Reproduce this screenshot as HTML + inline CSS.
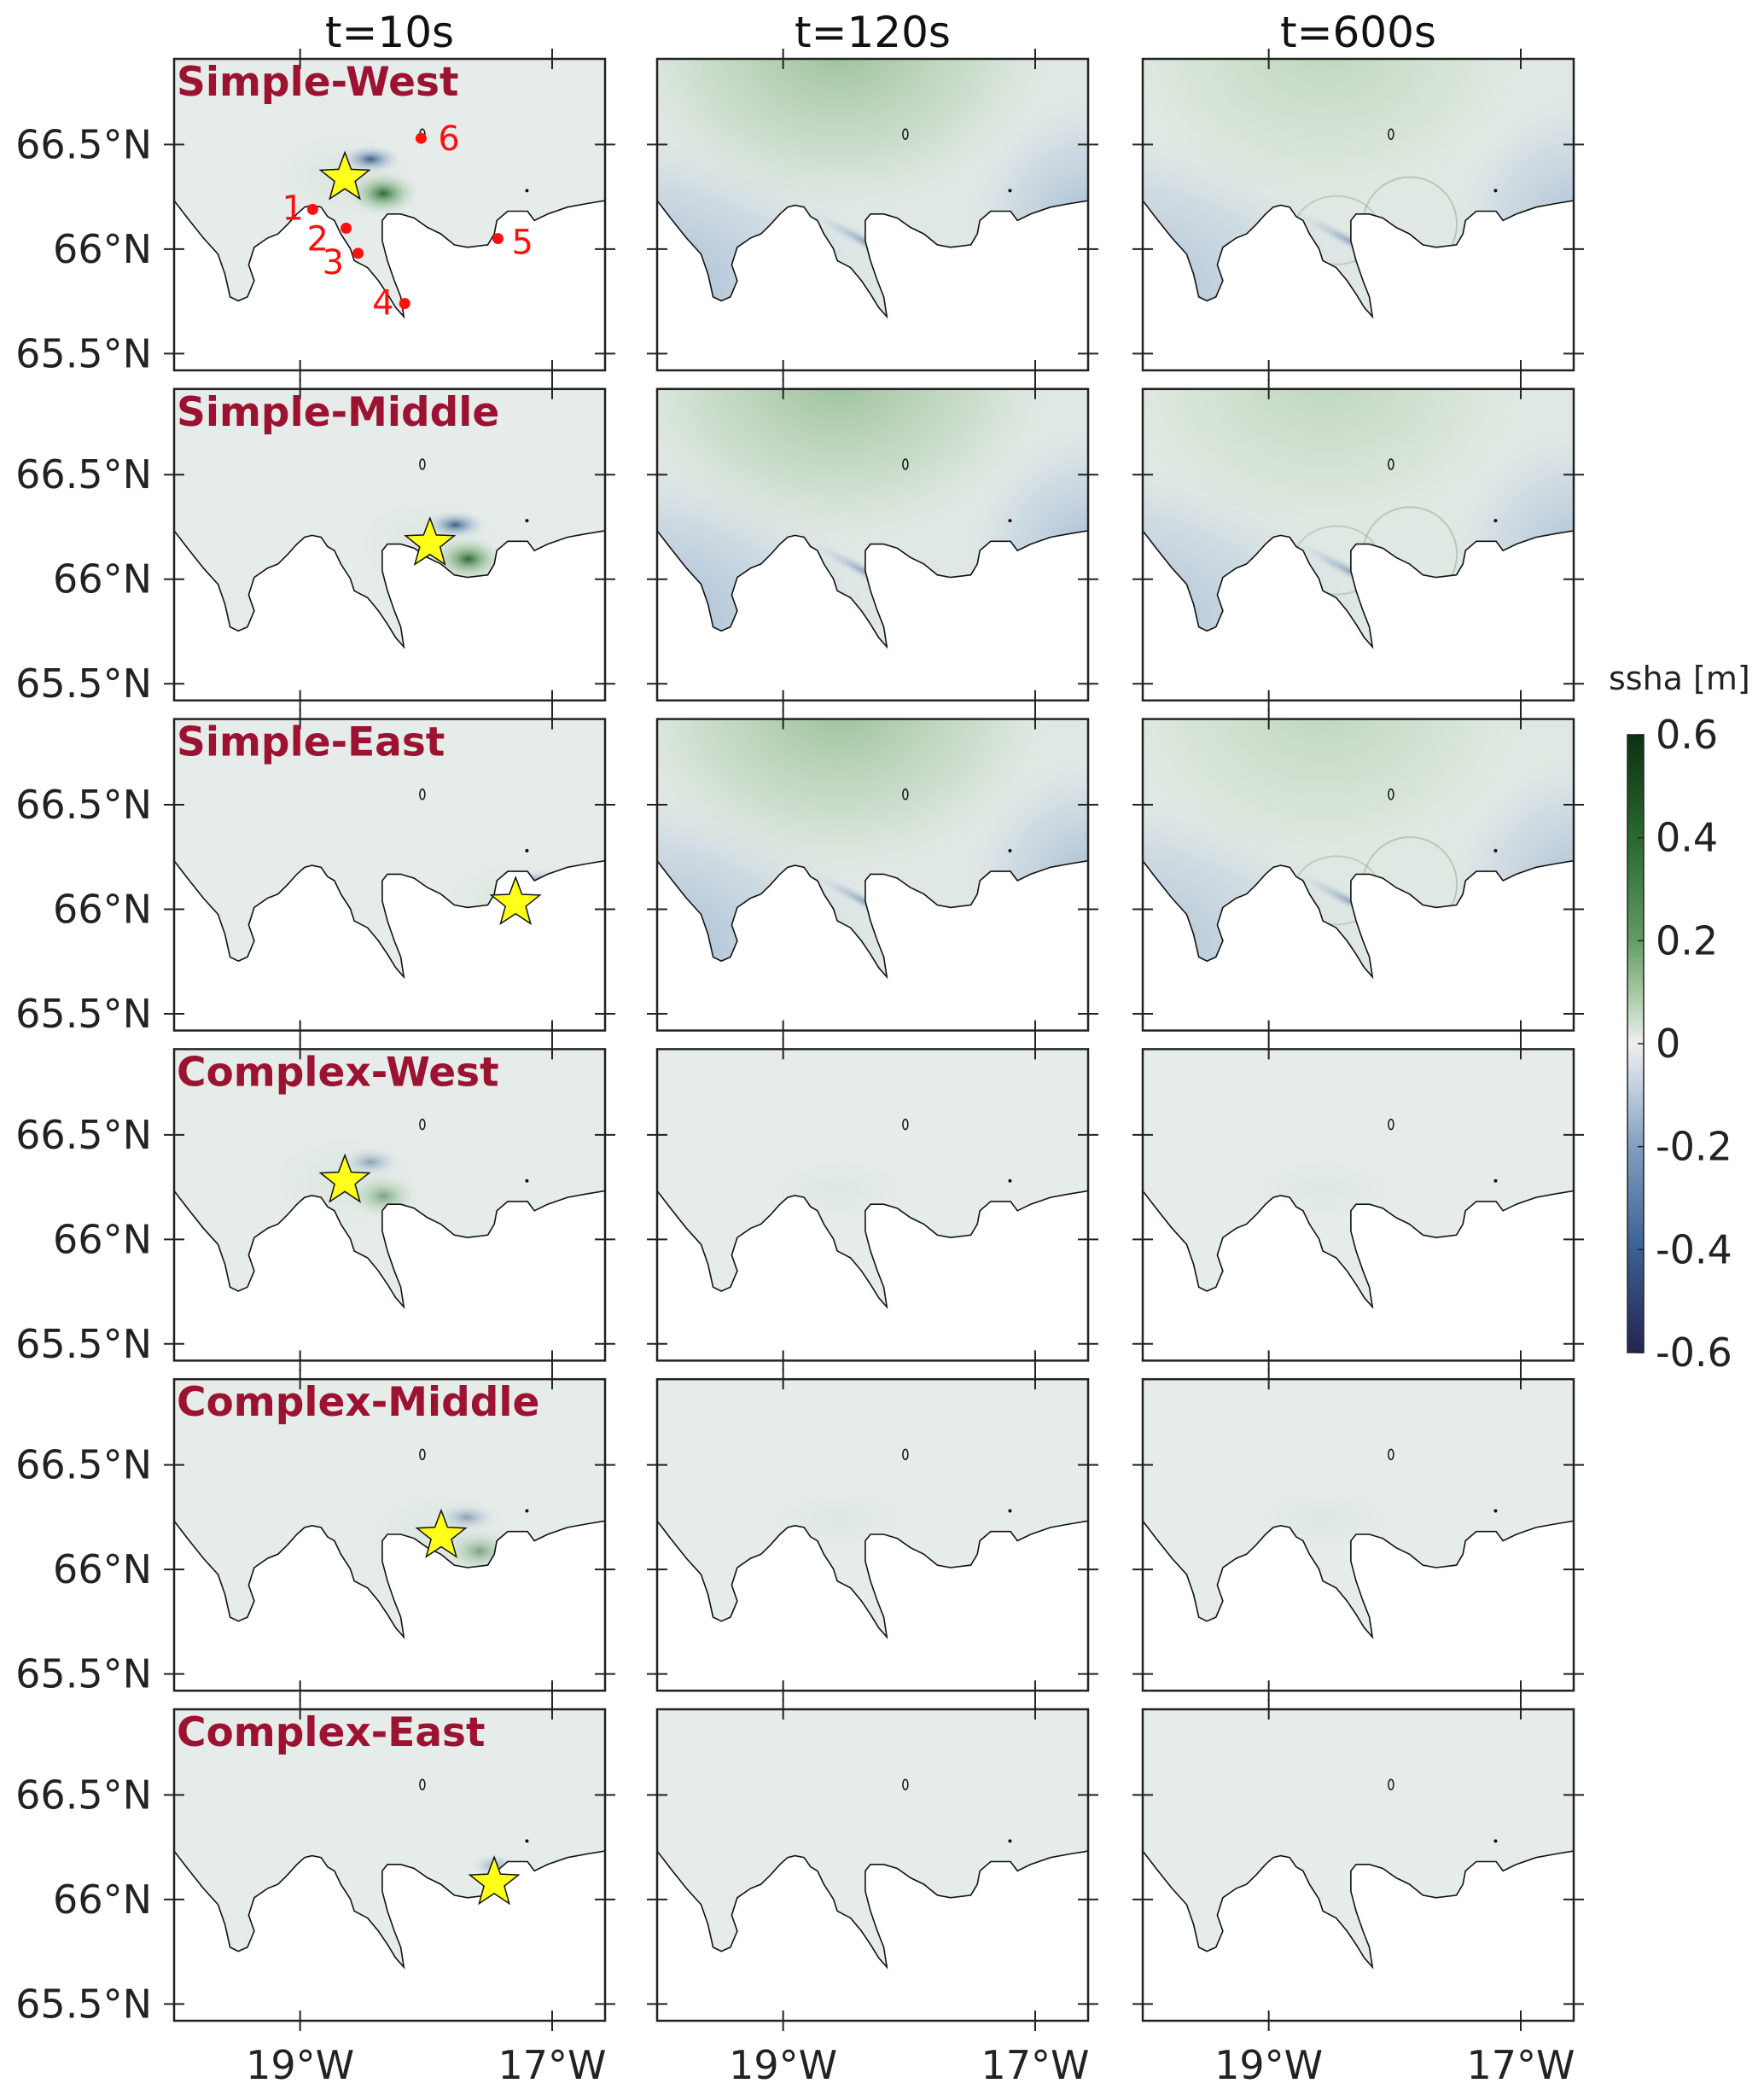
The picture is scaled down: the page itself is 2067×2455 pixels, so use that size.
<!DOCTYPE html>
<html><head><meta charset="utf-8"><style>
html,body{margin:0;padding:0;background:#fff;}
svg{display:block;font-family:"DejaVu Sans","Liberation Sans",sans-serif;}
</style></head><body>
<svg id="fig" width="2067" height="2455" viewBox="0 0 2067 2455" xmlns="http://www.w3.org/2000/svg">
<defs>
<linearGradient id="cbgrad" x1="0" y1="0" x2="0" y2="1">
<stop offset="0" stop-color="#0d3012"/><stop offset="0.17" stop-color="#2a6a30"/><stop offset="0.33" stop-color="#5f9a62"/>
<stop offset="0.42" stop-color="#a8c9a6"/><stop offset="0.5" stop-color="#eef0ef"/><stop offset="0.58" stop-color="#bccbdc"/>
<stop offset="0.67" stop-color="#7f9dbd"/><stop offset="0.83" stop-color="#3b6195"/><stop offset="1" stop-color="#24244f"/>
</linearGradient>
<radialGradient id="greenTop"><stop offset="0" stop-color="#98c096"/><stop offset="0.6" stop-color="#c3d9c2" stop-opacity="0.7"/><stop offset="1" stop-color="#e3ebe4" stop-opacity="0"/></radialGradient>
<radialGradient id="greenTop2"><stop offset="0" stop-color="#bcd6bb"/><stop offset="0.6" stop-color="#d3e3d2" stop-opacity="0.7"/><stop offset="1" stop-color="#e3ebe4" stop-opacity="0"/></radialGradient>
<radialGradient id="blueSide"><stop offset="0" stop-color="#9cb5d0"/><stop offset="0.6" stop-color="#bfcfe0" stop-opacity="0.6"/><stop offset="1" stop-color="#dfe6ec" stop-opacity="0"/></radialGradient>
<radialGradient id="greenBlob"><stop offset="0" stop-color="#1d5a25"/><stop offset="0.4" stop-color="#6aa56c" stop-opacity="0.6"/><stop offset="1" stop-color="#e6ecea" stop-opacity="0"/></radialGradient>
<radialGradient id="blueBlob"><stop offset="0" stop-color="#24456f"/><stop offset="0.4" stop-color="#6e8fb8" stop-opacity="0.6"/><stop offset="1" stop-color="#e6ecea" stop-opacity="0"/></radialGradient>
<radialGradient id="faintBlob"><stop offset="0" stop-color="#c5d8c5" stop-opacity="0.7"/><stop offset="1" stop-color="#e6ecea" stop-opacity="0"/></radialGradient>
</defs>
<g id="panels"></g>
</svg>
<script>
const rowNames = ["Simple-West","Simple-Middle","Simple-East","Complex-West","Complex-Middle","Complex-East"];
const colTitles = ["t=10s","t=120s","t=600s"];
const starLon = [-18.645,-17.97,-17.29,-18.645,-17.88,-17.46];
const starLat = [66.34,66.17,66.03,66.28,66.16,66.08];
const stationLon = [-18.90,-18.635,-18.54,-18.17,-17.43,-18.04];
const stationLat = [66.19,66.10,65.98,65.74,66.05,66.53];
const stationLabels = ["1","2","3","4","5","6"];
const latTicks = [66.5,66.0,65.5];
const latTickLabels = ["66.5°N","66°N","65.5°N"];
const lonTicks = [-19,-17];
const lonTickLabels = ["19°W","17°W"];
const cbTicks = [0.6,0.4,0.2,0,-0.2,-0.4,-0.6];
const cbTickLabels = ["0.6","0.4","0.2","0","-0.2","-0.4","-0.6"];
const coastU = [0,.031,.068,.102,.118,.130,.149,.170,.186,.173,.186,.217,.241,.263,.285,.303,.320,.341,.356,.372,.387,.409,.418,.449,.474,.495,.514,.533,.526,.511,.495,.483,.483,.495,.526,.557,.588,.619,.650,.681,.728,.743,.749,.774,.820,.836,.867,.913,.960,1];
const coastV = [.455,.511,.575,.627,.691,.764,.777,.764,.712,.661,.605,.575,.562,.532,.498,.476,.470,.476,.506,.519,.562,.609,.648,.670,.712,.755,.798,.828,.764,.712,.648,.584,.519,.498,.498,.511,.541,.562,.597,.605,.597,.562,.519,.489,.489,.519,.498,.476,.464,.455];

const LON0=-20.0, LON1=-16.58, LAT0=65.42, LAT1=66.91;
const colX=[204,770,1339], PW=505, PH=365, rowY0=69, rowPitch=386.8;
const NS="http://www.w3.org/2000/svg";
const root=document.getElementById('panels');
function mk(tag,attrs,parent){const e=document.createElementNS(NS,tag);for(const k in attrs)e.setAttribute(k,attrs[k]);(parent||root).appendChild(e);return e;}
function xs(c,lon){return colX[c]+(lon-LON0)/(LON1-LON0)*PW;}
function ys(r,lat){return rowY0+r*rowPitch+(LAT1-lat)/(LAT1-LAT0)*PH;}
function starPath(cx,cy,R){let p="";for(let i=0;i<10;i++){const rr=i%2?R*0.42:R;const a=-Math.PI/2+i*Math.PI/5;p+=(i?"L":"M")+(cx+rr*Math.cos(a)).toFixed(1)+","+(cy+rr*Math.sin(a)).toFixed(1);}return p+"Z";}

for(let r=0;r<6;r++){
 for(let c=0;c<3;c++){
  const x0=colX[c], y0=rowY0+r*rowPitch;
  const g=mk('g',{});
  
  
  const clipId='clip'+r+c;
  const cp=mk('clipPath',{id:clipId},g); mk('rect',{x:x0,y:y0,width:PW,height:PH},cp);
  const field=mk('g',{'clip-path':'url(#'+clipId+')'},g);
  
  
  const simple=r<3;
  mk('rect',{x:x0,y:y0,width:PW,height:PH,fill:simple&&c>0?'#e0e8e4':'#e6ecea'},field);
  const sx=xs(c,starLon[r]), sy=ys(r,starLat[r]);
  if(c===0){
   if(r<5){
    mk('ellipse',{cx:sx,cy:sy,rx:110,ry:70,fill:'url(#faintBlob)',opacity:0.6},field);
    mk('ellipse',{cx:sx+45,cy:sy+18,rx:45,ry:28,fill:'url(#greenBlob)',opacity:simple?0.9:0.5},field);
    mk('ellipse',{cx:sx+30,cy:sy-22,rx:38,ry:18,fill:'url(#blueBlob)',opacity:simple?0.85:0.45},field);
   } else {
    mk('ellipse',{cx:sx,cy:sy-20,rx:30,ry:16,fill:'url(#blueBlob)',opacity:0.4},field);
   }
  } else if(simple){
   const gt=c===1?'url(#greenTop)':'url(#greenTop2)';
   mk('ellipse',{cx:x0-PW*0.05,cy:y0+PH*0.75,rx:PW*0.6,ry:PH*0.55,fill:'url(#blueSide)',opacity:c===1?1:0.85},field);
   mk('ellipse',{cx:x0+PW,cy:y0+PH*0.55,rx:PW*0.3,ry:PH*0.45,fill:'url(#blueSide)',opacity:c===1?0.9:0.8},field);
   mk('ellipse',{cx:x0+PW*0.42,cy:y0-PH*0.05,rx:PW*0.55,ry:PH*0.6,fill:gt},field);
   mk('ellipse',{cx:x0+PW*0.5,cy:y0+PH*0.6,rx:90,ry:10,fill:'url(#blueBlob)',opacity:0.5,transform:'rotate(28 '+(x0+PW*0.5)+' '+(y0+PH*0.6)+')'},field);
   if(c===2){
    mk('ellipse',{cx:x0+PW*0.62,cy:y0+PH*0.53,rx:55,ry:55,fill:'none',stroke:'#9ab59b','stroke-width':2,opacity:0.6},field);
    mk('ellipse',{cx:x0+PW*0.45,cy:y0+PH*0.55,rx:50,ry:40,fill:'none',stroke:'#9ab59b','stroke-width':2,opacity:0.5},field);
   }
  } else if(r<5){
   mk('ellipse',{cx:x0+PW*0.42,cy:y0+PH*0.45,rx:110,ry:50,fill:'url(#faintBlob)',opacity:0.4},field);
  }
  let d="M"+(x0)+","+(y0+PH)+" ";
  for(let i=0;i<coastU.length;i++) d+="L"+(x0+coastU[i]*PW).toFixed(1)+","+(y0+coastV[i]*PH).toFixed(1)+" ";
  d+="L"+(x0+PW)+","+(y0+PH)+"Z";
  const land=mk('path',{d:d,fill:'#ffffff',stroke:'none'},field);
  
  
  let cd="M"+(x0)+","+(y0+coastV[0]*PH);
  for(let i=1;i<coastU.length;i++) cd+=" L"+(x0+coastU[i]*PW).toFixed(1)+","+(y0+coastV[i]*PH).toFixed(1);
  const coast=mk('path',{d:cd,fill:'none',stroke:'#111','stroke-width':1.6},field);
  
  
  const isl=mk('ellipse',{cx:xs(c,-18.03),cy:ys(r,66.55),rx:3,ry:6,fill:'none',stroke:'#111','stroke-width':1.5},field);
  
  
  mk('circle',{cx:xs(c,-17.2),cy:ys(r,66.28),r:2,fill:'#111'},field);
  const fr=mk('rect',{x:x0,y:y0,width:PW,height:PH,fill:'none',stroke:'#222','stroke-width':2.5},g);
  
  
  for(let k=0;k<latTicks.length;k++){
   const ty=ys(r,latTicks[k]);
   mk('line',{x1:x0-12,y1:ty,x2:x0+12,y2:ty,stroke:'#222','stroke-width':2},g);
   mk('line',{x1:x0+PW-12,y1:ty,x2:x0+PW+12,y2:ty,stroke:'#222','stroke-width':2},g);
   if(c===0){
    const t=mk('text',{x:x0-26,y:ty+16,'text-anchor':'end','font-size':46,fill:'#222'},g);
    t.textContent=latTickLabels[k];
    
    
   }
  }
  for(let k=0;k<lonTicks.length;k++){
   const tx=xs(c,lonTicks[k]);
   mk('line',{x1:tx,y1:y0-12,x2:tx,y2:y0+12,stroke:'#222','stroke-width':2},g);
   mk('line',{x1:tx,y1:y0+PH-12,x2:tx,y2:y0+PH+12,stroke:'#222','stroke-width':2},g);
   if(r===5){
    const t=mk('text',{x:tx,y:y0+PH+68,'text-anchor':'middle','font-size':46,fill:'#222'},g);
    t.textContent=lonTickLabels[k];
    
    
   }
  }
  if(c===0){
   const st=mk('path',{d:starPath(sx,sy,30),fill:'#ffff1a',stroke:'#111','stroke-width':1.5},g);
   
   
   const lb=mk('text',{x:x0+3,y:y0+43,'font-size':47,'font-weight':'bold',fill:'#9c1231'},g);
   lb.textContent=rowNames[r];
   
   
  }
  if(r===0&&c===0){
   const offs=[[-36,12],[-46,26],[-42,24],[-38,13],[16,18],[20,14]];
   for(let k=0;k<stationLon.length;k++){
    const px=xs(c,stationLon[k]), py=ys(r,stationLat[k]);
    const dot=mk('circle',{cx:px,cy:py,r:6.5,fill:'#ff1010'},g);
    
    
    const tl=mk('text',{x:px+offs[k][0],y:py+offs[k][1],'font-size':40,fill:'#ff1010'},g);
    tl.textContent=stationLabels[k];
    
    
   }
  }
 }
}
for(let c=0;c<3;c++){
 const t=mk('text',{x:colX[c]+PW/2,y:55,'text-anchor':'middle','font-size':50,fill:'#111'});
 t.textContent=colTitles[c];
 
 
}
const CBX=1907, CBW=19, CBY0=861, CBY1=1585, CBMAX=0.6, CBMIN=-0.6;
function cy(v){return CBY0+(CBMAX-v)/(CBMAX-CBMIN)*(CBY1-CBY0);}
const cb=mk('rect',{x:CBX,y:CBY0,width:CBW,height:CBY1-CBY0,fill:'url(#cbgrad)',stroke:'#222','stroke-width':1.5});


for(let k=0;k<cbTicks.length;k++){
 const y=cy(cbTicks[k]);
 mk('line',{x1:CBX+CBW-7,y1:y,x2:CBX+CBW,y2:y,stroke:'#222','stroke-width':1.5});
 const t=mk('text',{x:CBX+CBW+14,y:y+16,'font-size':46,fill:'#222'});
 t.textContent=cbTickLabels[k];
 
 
}
const cbl=mk('text',{x:1885,y:808,'font-size':38,fill:'#222'});
cbl.textContent="ssha [m]";


</script>
</body></html>
